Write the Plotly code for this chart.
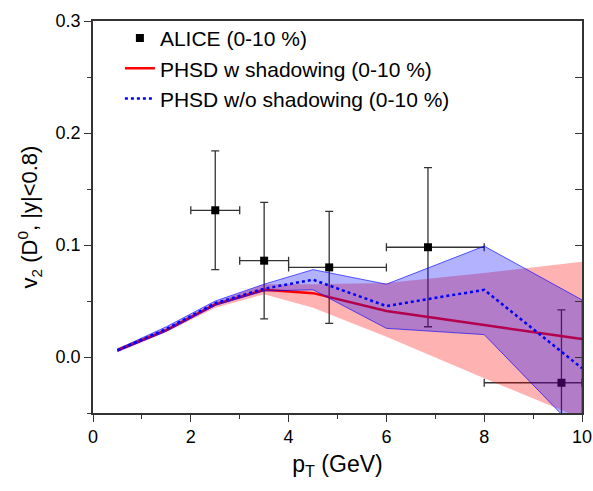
import plotly.graph_objects as go

# ALICE data
alice_x = [2.5, 3.5, 4.83, 6.85, 9.58]
alice_y = [0.131, 0.086, 0.080, 0.098, -0.023]
alice_xlo = [0.5, 0.5, 0.83, 0.85, 1.58]
alice_xhi = [0.5, 0.5, 1.17, 1.15, 0.42]
alice_yerr = [0.053, 0.052, 0.050, 0.071, 0.065]

# PHSD model curves
pt = [0.5, 1.5, 2.5, 3.5, 4.5, 6.0, 8.0, 10.0]
w_mid = [0.006, 0.024, 0.047, 0.060, 0.057, 0.041, 0.0286, 0.016]
w_up = [0.008, 0.026, 0.049, 0.065, 0.065, 0.066, 0.075, 0.085]
w_lo = [0.004, 0.022, 0.044, 0.056, 0.044, 0.018, -0.019, -0.055]

wo_mid = [0.006, 0.025, 0.048, 0.061, 0.069, 0.0455, 0.060, -0.010]
wo_up = [0.007, 0.027, 0.050, 0.065, 0.078, 0.065, 0.099, 0.051]
wo_lo = [0.005, 0.023, 0.046, 0.059, 0.060, 0.0256, 0.020, -0.070]

FONT = "Arial, Liberation Sans, sans-serif"

fig = go.Figure()

fig.add_trace(go.Scatter(
    x=alice_x, y=alice_y, mode="markers", name="ALICE (0-10 %)",
    marker=dict(symbol="square", size=8, color="black"),
    error_x=dict(type="data", symmetric=False, array=alice_xhi, arrayminus=alice_xlo,
                 color="#333333", thickness=1.3, width=4),
    error_y=dict(type="data", array=alice_yerr, color="#333333", thickness=1.3, width=4),
))

# red band
fig.add_trace(go.Scatter(
    x=pt + pt[::-1], y=w_up + w_lo[::-1], fill="toself",
    fillcolor="rgba(255,0,0,0.3)", line=dict(width=0), mode="lines",
    showlegend=False, hoverinfo="skip"))
fig.add_trace(go.Scatter(
    x=pt, y=w_mid, mode="lines", name="PHSD w shadowing (0-10 %)",
    line=dict(color="red", width=2.5)))

# blue band
fig.add_trace(go.Scatter(
    x=pt + pt[::-1], y=wo_up + wo_lo[::-1], fill="toself",
    fillcolor="rgba(0,0,255,0.3)", line=dict(width=0.8, color="rgba(0,0,255,0.8)"),
    mode="lines", showlegend=False, hoverinfo="skip"))
fig.add_trace(go.Scatter(
    x=pt, y=wo_mid, mode="lines", name="PHSD w/o shadowing (0-10 %)",
    line=dict(color="blue", width=2.5, dash="dot")))

# dummy trace for right inward ticks
fig.add_trace(go.Scatter(x=[None], y=[None], yaxis="y2", showlegend=False, hoverinfo="skip"))

fig.update_layout(
    width=593, height=491,
    margin=dict(l=93, r=9, t=21, b=78),
    paper_bgcolor="white", plot_bgcolor="white",
    font=dict(family=FONT, size=18, color="black"),
    showlegend=True,
    legend=dict(x=0.055, y=1.008, xanchor="left", yanchor="top",
                bgcolor="rgba(0,0,0,0)", font=dict(size=21, family=FONT)),
    xaxis=dict(range=[0, 10], dtick=2, tick0=0, ticks="outside", ticklen=7, tickwidth=1.3,
               tickcolor="#333333", showline=True, linecolor="#333333", linewidth=1.5,
               mirror=True, showgrid=False, zeroline=False, automargin=False,
               ticklabeloverflow="allow",
               minor=dict(dtick=1, tick0=0, ticks="outside", ticklen=4, tickwidth=1.3, tickcolor="#333333"),
               title=dict(text="p<sub>T</sub> (GeV)", font=dict(size=23), standoff=10),
               tickfont=dict(size=18)),
    yaxis=dict(range=[-0.05, 0.3], dtick=0.1, tick0=0, tickformat=".1f", ticks="outside",
               ticklen=7, tickwidth=1.3, tickcolor="#333333", showline=True,
               linecolor="#333333", linewidth=1.5, mirror=True, showgrid=False, zeroline=False,
               minor=dict(dtick=0.05, tick0=0, ticks="outside", ticklen=4, tickwidth=1.3, tickcolor="#333333"),
               title=dict(text="v<sub>2</sub> (D<sup>0</sup>, |y|<0.8)", font=dict(size=22), standoff=12),
               tickfont=dict(size=18)),
    yaxis2=dict(range=[-0.05, 0.3], overlaying="y", side="right", dtick=0.05, tick0=0,
                ticks="inside", ticklen=7, tickwidth=1.3, tickcolor="#333333", automargin=False,
                showticklabels=False, showgrid=False, zeroline=False, showline=False),
)

fig.write_html("out.html", config={"displayModeBar": False},
               post_script="document.body.style.margin='0';")
